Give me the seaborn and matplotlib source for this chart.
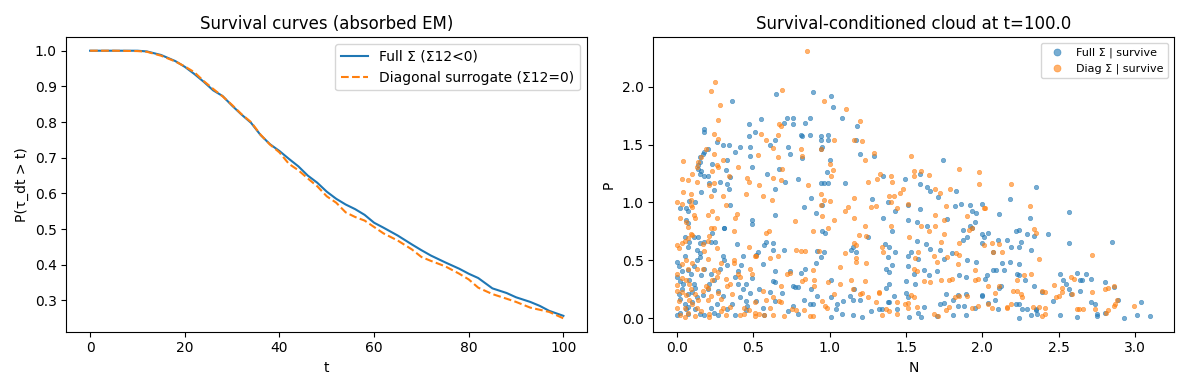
import numpy as np
import pandas as pd
import matplotlib
matplotlib.use("Agg")
import matplotlib.pyplot as plt
import seaborn as sns

# survival curves, values
t_grid = [0, 5, 10, 12, 15, 18, 20, 22, 24, 26, 28, 30, 32, 34, 36, 38, 40, 42, 44, 46, 48,
          50, 52, 54, 56, 58, 60, 62, 65, 68, 70, 72, 75, 78, 80, 82, 85, 88, 90, 93, 95, 97, 100]
surv_full = [1.0, 1.0, 1.0, 0.998, 0.988, 0.971, 0.955, 0.935, 0.913, 0.889, 0.873, 0.846, 0.821,
             0.798, 0.764, 0.738, 0.719, 0.697, 0.676, 0.650, 0.630, 0.605, 0.585, 0.569, 0.556,
             0.540, 0.518, 0.504, 0.482, 0.457, 0.441, 0.426, 0.407, 0.389, 0.375, 0.363, 0.334,
             0.321, 0.309, 0.296, 0.285, 0.271, 0.257]
surv_diag = [1.0, 1.0, 0.999, 0.997, 0.986, 0.970, 0.956, 0.940, 0.915, 0.893, 0.872, 0.848, 0.822,
             0.800, 0.765, 0.737, 0.715, 0.683, 0.665, 0.642, 0.620, 0.592, 0.574, 0.547, 0.534,
             0.524, 0.506, 0.488, 0.468, 0.443, 0.422, 0.411, 0.396, 0.375, 0.359, 0.336, 0.318,
             0.305, 0.296, 0.280, 0.274, 0.268, 0.250]

# survivors at t=100, (N, P) pairs
full_pts = [
    (0.36, 1.88), (0.65, 1.94), (0.89, 1.95), (1.01, 1.92), (1.02, 1.82), (1.08, 1.73), (1.18, 1.66),
    (0.72, 1.73), (0.76, 1.73), (0.70, 1.69), (0.76, 1.68), (0.84, 1.69), (0.87, 1.73), (0.55, 1.72),
    (0.47, 1.68), (0.51, 1.61), (0.47, 1.57), (0.18, 1.63), (0.18, 1.61), (0.81, 1.58), (0.82, 1.57),
    (0.87, 1.58), (0.94, 1.57), (0.99, 1.58), (0.94, 1.54), (0.99, 1.54), (0.95, 1.48), (0.94, 1.46),
    (0.73, 1.48), (0.61, 1.50), (0.64, 1.54), (0.41, 1.48), (0.34, 1.50), (0.30, 1.50), (0.26, 1.52),
    (0.38, 1.44), (0.48, 1.48), (0.48, 1.40), (0.20, 1.46), (0.18, 1.44), (0.17, 1.42), (0.15, 1.39),
    (0.15, 1.35), (0.23, 1.33), (0.33, 1.37), (1.17, 1.54), (1.20, 1.42), (1.29, 1.40), (1.00, 1.37),
    (0.74, 1.42), (0.82, 1.38), (0.67, 1.29), (0.49, 1.31), (0.59, 1.25), (0.14, 1.32), (0.14, 1.29),
    (0.15, 1.25), (0.16, 1.27), (0.18, 1.23), (0.20, 1.23), (0.32, 1.28), (0.35, 1.22), (0.98, 1.26),
    (0.71, 1.18), (0.79, 1.20), (1.10, 1.17), (0.96, 1.17), (0.99, 1.17), (0.94, 1.17), (0.28, 1.18),
    (0.21, 1.17), (0.24, 1.11), (0.33, 1.16), (0.34, 1.12), (0.16, 1.09), (0.06, 0.95), (0.02, 0.95),
    (0.07, 0.93), (0.08, 1.01), (0.12, 1.00), (0.35, 0.98), (0.64, 1.12), (0.88, 1.04), (0.95, 0.98),
    (0.91, 0.91), (0.83, 0.96), (0.64, 0.89), (0.49, 0.85), (0.49, 0.81), (0.06, 0.85), (0.07, 0.82),
    (0.31, 0.78), (1.35, 1.23), (1.28, 1.03), (1.38, 1.00), (1.35, 0.87), (1.41, 0.75), (1.25, 0.70),
    (1.43, 0.93), (0.95, 0.75), (0.97, 0.74), (1.49, 1.20), (1.59, 1.25), (1.59, 1.16), (1.64, 1.13),
    (1.66, 1.10), (1.59, 0.94), (1.51, 0.85), (1.57, 0.83), (1.64, 0.80), (1.51, 0.98), (1.71, 1.05),
    (1.74, 1.37), (1.77, 0.86), (1.83, 1.10), (1.82, 0.97), (1.86, 0.99), (1.92, 0.98), (1.93, 0.93),
    (1.96, 0.91), (1.95, 0.83), (1.93, 0.78), (1.92, 0.80), (2.00, 0.99), (2.04, 0.74), (2.01, 0.70),
    (2.10, 0.68), (2.16, 0.68), (2.19, 0.62), (2.11, 0.90), (2.18, 1.03), (2.22, 0.75), (2.24, 0.76),
    (2.25, 0.66), (2.24, 0.62), (2.29, 0.73), (2.31, 0.87), (2.32, 0.59), (2.34, 0.71), (2.35, 1.13),
    (2.43, 0.73), (2.57, 0.92), (2.57, 0.65), (2.85, 0.66), (1.87, 0.68), (1.90, 0.70), (1.87, 0.76),
    (1.80, 0.56), (1.90, 0.50), (1.96, 0.49), (2.00, 0.65), (2.00, 0.73), (2.07, 0.57), (2.13, 0.48),
    (2.18, 0.49), (2.24, 0.47), (2.07, 0.42), (2.09, 0.42), (2.14, 0.42), (2.03, 0.37), (1.75, 0.51),
    (1.72, 0.59), (1.66, 0.60), (1.63, 0.64), (1.57, 0.67), (1.53, 0.57), (1.51, 0.54), (1.43, 0.57),
    (1.38, 0.53), (1.39, 0.62), (1.36, 0.64), (1.37, 0.43), (1.39, 0.40), (1.41, 0.46), (1.39, 0.30),
    (1.37, 0.26), (1.51, 0.45), (1.55, 0.38), (1.56, 0.30), (1.62, 0.42), (1.65, 0.37), (1.70, 0.41),
    (1.50, 0.32), (1.50, 0.22), (1.51, 0.18), (1.58, 0.51), (1.85, 0.37), (1.89, 0.36), (1.89, 0.21),
    (1.84, 0.20), (1.81, 0.16), (1.84, 0.11), (1.88, 0.11), (1.95, 0.09), (2.00, 0.20), (2.02, 0.34),
    (2.00, 0.19), (2.04, 0.13), (2.08, 0.16), (2.10, 0.08), (2.12, 0.28), (2.11, 0.26), (1.75, 0.13),
    (1.76, 0.21), (1.72, 0.12), (1.70, 0.02), (1.81, 0.03), (1.89, 0.03), (2.22, 0.12), (2.24, 0.12),
    (2.26, 0.08), (2.24, 0.00), (2.23, 0.38), (2.24, 0.37), (2.28, 0.33), (2.29, 0.08), (2.32, 0.03),
    (2.34, 0.28), (2.35, 0.07), (2.36, 0.04), (2.35, 0.08), (2.39, 0.23), (2.51, 0.38), (2.46, 0.15),
    (2.51, 0.03), (2.53, 0.33), (2.55, 0.30), (2.57, 0.25), (2.58, 0.21), (2.62, 0.01), (2.62, 0.39),
    (2.64, 0.33), (2.65, 0.33), (2.68, 0.38), (2.64, 0.24), (2.71, 0.34), (2.71, 0.14), (2.74, 0.12),
    (2.75, 0.04), (2.75, 0.02), (2.80, 0.05), (2.80, 0.31), (2.86, 0.27), (2.89, 0.16), (2.93, 0.00),
    (3.01, 0.03), (3.04, 0.14), (3.10, 0.02),
    (0.00, 0.49), (0.01, 0.45), (0.03, 0.41), (0.00, 0.36), (0.02, 0.32), (0.04, 0.30), (0.03, 0.25),
    (0.01, 0.21), (0.02, 0.17), (0.05, 0.12), (0.02, 0.05), (0.00, 0.03), (0.05, 0.54), (0.07, 0.62),
    (0.08, 0.66), (0.05, 0.70), (0.11, 0.70), (0.14, 0.70), (0.15, 0.65), (0.13, 0.59), (0.15, 0.56),
    (0.15, 0.53), (0.13, 0.50), (0.11, 0.45), (0.07, 0.42), (0.09, 0.38), (0.08, 0.33), (0.11, 0.30),
    (0.12, 0.26), (0.10, 0.23), (0.07, 0.21), (0.13, 0.18), (0.10, 0.14), (0.07, 0.10), (0.12, 0.08),
    (0.15, 0.04), (0.18, 0.03), (0.17, 0.20), (0.20, 0.25), (0.21, 0.30), (0.24, 0.33), (0.22, 0.38),
    (0.18, 0.43), (0.16, 0.37), (0.18, 0.66), (0.22, 0.66), (0.25, 0.66), (0.23, 0.74), (0.31, 0.78),
    (0.30, 0.54), (0.31, 0.50), (0.33, 0.46), (0.28, 0.43), (0.27, 0.24), (0.30, 0.19), (0.26, 0.12),
    (0.22, 0.09), (0.24, 0.05), (0.27, 0.03), (0.33, 0.08), (0.36, 0.12), (0.38, 0.03), (0.41, 0.18),
    (0.40, 0.30), (0.43, 0.25), (0.45, 0.30), (0.38, 0.36), (0.40, 0.41), (0.42, 0.46), (0.43, 0.54),
    (0.39, 0.64), (0.45, 0.15), (0.46, 0.11), (0.45, 0.07), (0.48, 0.22), (0.49, 0.35), (0.52, 0.55),
    (0.53, 0.57), (0.56, 0.47), (0.57, 0.63), (0.58, 0.66), (0.63, 0.65), (0.63, 0.59), (0.64, 0.41),
    (0.63, 0.32), (0.64, 0.31), (0.54, 0.25), (0.52, 0.15), (0.56, 0.09), (0.57, 0.03), (0.61, 0.23),
    (0.64, 0.15), (0.69, 0.22), (0.70, 0.59), (0.74, 0.41), (0.76, 0.28), (0.77, 0.27), (0.79, 0.27),
    (0.81, 0.39), (0.84, 0.43), (0.83, 0.16), (0.76, 0.11), (0.73, 0.06), (0.79, 0.04), (0.87, 0.12),
    (0.89, 0.12), (0.88, 0.25), (0.92, 0.19), (0.91, 0.48), (0.92, 0.58), (0.94, 0.53), (0.96, 0.57),
    (1.01, 0.33), (1.01, 0.18), (1.05, 0.12), (1.04, 0.08), (1.01, 0.01), (1.09, 0.15), (1.08, 0.04),
    (1.13, 0.19), (1.16, 0.25), (1.15, 0.16), (1.15, 0.03), (1.15, 0.62), (1.14, 0.59), (1.17, 0.57),
    (1.20, 0.16), (1.21, 0.01), (1.27, 0.06), (1.32, 0.08), (1.38, 0.14), (1.39, 0.14), (1.42, 0.19),
    (1.44, 0.08), (1.52, 0.01), (1.58, 0.05), (1.60, 0.01), (1.62, 0.10), (1.34, 0.08), (0.07, 0.04),
    (0.06, 0.08),
]

diag_pts = [
    (0.85, 2.31), (0.25, 2.04), (0.22, 1.96), (0.69, 1.97), (0.28, 1.84), (0.96, 1.88), (1.11, 1.81),
    (0.27, 1.71), (0.67, 1.68), (0.68, 1.66), (1.20, 1.70), (0.24, 1.59), (0.55, 1.59), (0.66, 1.58),
    (0.27, 1.55), (0.58, 1.54), (1.03, 1.54), (1.16, 1.54), (1.21, 1.53), (0.81, 1.46), (0.94, 1.46),
    (0.19, 1.46), (0.63, 1.47), (0.24, 1.42), (0.53, 1.41), (0.66, 1.39), (0.82, 1.40), (1.29, 1.43),
    (1.23, 1.37), (1.53, 1.40), (0.16, 1.39), (0.04, 1.36), (0.30, 1.37), (0.26, 1.32), (0.27, 1.31),
    (0.23, 1.27), (0.14, 1.35), (0.13, 1.31), (0.10, 1.25), (0.40, 1.31), (1.00, 1.33), (1.02, 1.28),
    (0.69, 1.29), (0.34, 1.23), (1.01, 1.23), (0.03, 1.20), (0.07, 1.19), (0.13, 1.18), (0.24, 1.17),
    (0.21, 1.15), (0.46, 1.21), (0.47, 1.18), (0.54, 1.15), (0.63, 1.21), (0.68, 1.19), (0.86, 1.15),
    (1.25, 1.18), (1.31, 1.20), (1.33, 1.25), (1.40, 1.23), (1.41, 1.18), (1.48, 1.12), (1.55, 1.27),
    (1.55, 1.23), (1.60, 1.27), (1.65, 1.24), (1.85, 1.29), (1.98, 1.26), (1.98, 1.16), (2.19, 1.16),
    (1.69, 1.12), (1.72, 1.08), (1.79, 1.12), (0.04, 1.09), (0.09, 1.07), (0.22, 1.06), (0.30, 1.06),
    (0.45, 1.07), (0.56, 1.06), (0.62, 1.02), (0.94, 1.07), (0.96, 1.02), (1.16, 1.04), (1.39, 1.06),
    (1.46, 1.08), (1.42, 1.06), (1.51, 0.99), (1.40, 1.00), (1.00, 1.01), (0.00, 1.00), (0.03, 0.99),
    (0.09, 1.02), (0.09, 0.98), (0.10, 0.96), (0.32, 0.98), (0.02, 0.87), (0.11, 0.89), (0.12, 0.87),
    (0.20, 0.89), (0.23, 0.93), (0.26, 0.87), (0.38, 0.87), (0.39, 0.90), (0.94, 0.98), (0.95, 0.88),
    (1.10, 0.93), (1.12, 0.96), (1.16, 0.87), (1.27, 0.96), (1.30, 0.97), (1.44, 0.95), (1.76, 0.97),
    (1.75, 0.85), (2.01, 0.95), (2.02, 0.95), (2.31, 0.97), (1.90, 0.88), (1.69, 0.89), (1.03, 0.85),
    (0.77, 0.84), (0.99, 0.78), (0.60, 0.75), (0.58, 0.74), (0.37, 0.75), (1.23, 0.80), (1.19, 0.72),
    (1.24, 0.71), (0.89, 0.75), (1.40, 0.80), (1.60, 0.80), (1.65, 0.75), (1.52, 0.70), (1.69, 0.80),
    (1.75, 0.73), (1.93, 0.78), (1.91, 0.76), (1.85, 0.65), (1.73, 0.66), (2.01, 0.63), (2.06, 0.65),
    (2.11, 0.64), (2.34, 0.77), (2.35, 0.74), (2.37, 0.51), (2.72, 0.55), (2.13, 0.57), (2.07, 0.57),
    (1.85, 0.55), (1.83, 0.56), (1.84, 0.47), (1.77, 0.53), (1.70, 0.49), (1.68, 0.54), (1.58, 0.57),
    (1.56, 0.52), (1.55, 0.43), (1.57, 0.41), (1.62, 0.32), (1.66, 0.31), (1.73, 0.33), (1.78, 0.33),
    (1.80, 0.34), (1.95, 0.42), (1.95, 0.33), (1.97, 0.34), (2.04, 0.28), (2.08, 0.22), (2.11, 0.28),
    (2.20, 0.24), (2.23, 0.24), (2.23, 0.33), (2.27, 0.37), (2.32, 0.38), (2.25, 0.21), (2.26, 0.18),
    (2.39, 0.24), (2.41, 0.23), (2.47, 0.29), (2.52, 0.26), (2.52, 0.23), (2.50, 0.19), (2.48, 0.18),
    (2.58, 0.36), (2.60, 0.34), (2.59, 0.21), (2.72, 0.23), (2.80, 0.25), (2.82, 0.26), (2.86, 0.28),
    (2.86, 0.11), (2.87, 0.12), (2.74, 0.08), (2.81, 0.05), (2.82, 0.07), (2.99, 0.11), (2.88, 0.16),
    (2.62, 0.08), (2.66, 0.08), (2.63, 0.08), (2.41, 0.09), (2.39, 0.02), (2.41, 0.04), (2.37, 0.10),
    (2.33, 0.10), (2.19, 0.12), (2.16, 0.10), (2.16, 0.09), (2.06, 0.09), (2.04, 0.12), (1.97, 0.11),
    (1.93, 0.09), (1.90, 0.19), (1.85, 0.19), (1.82, 0.18), (1.78, 0.10), (1.76, 0.07), (1.71, 0.02),
    (1.68, 0.04), (1.51, 0.09), (1.51, 0.13), (1.53, 0.20), (1.55, 0.18), (1.57, 0.10), (1.49, 0.12),
    (1.44, 0.14), (1.44, 0.04), (1.39, 0.06), (1.34, 0.03), (1.37, 0.08), (1.30, 0.14), (1.32, 0.23),
    (1.32, 0.22), (1.25, 0.18), (1.23, 0.32), (1.20, 0.21), (1.21, 0.22), (1.15, 0.25), (1.14, 0.33),
    (1.24, 0.48), (1.17, 0.49), (1.17, 0.52), (1.10, 0.56), (1.17, 0.63), (1.16, 0.65), (1.34, 0.62),
    (1.35, 0.57), (1.07, 0.44), (0.99, 0.31), (1.07, 0.30), (1.03, 0.21), (0.95, 0.15), (0.97, 0.11),
    (0.98, 0.09), (0.90, 0.28), (0.90, 0.33), (0.89, 0.42), (0.93, 0.58), (0.84, 0.58), (0.78, 0.59),
    (0.81, 0.58), (0.66, 0.54), (0.61, 0.52), (0.51, 0.54), (0.47, 0.62), (0.82, 0.32), (0.84, 0.34),
    (0.74, 0.39), (0.72, 0.38), (0.68, 0.28), (0.68, 0.14), (0.67, 0.15), (0.63, 0.18), (0.58, 0.16),
    (0.75, 0.08), (0.78, 0.07), (0.83, 0.07), (0.87, 0.02), (0.89, 0.02), (0.70, 0.02), (0.63, 0.03),
    (0.57, 0.03), (0.51, 0.02), (0.47, 0.07), (0.51, 0.14), (0.56, 0.24), (0.49, 0.38), (0.48, 0.43),
    (0.52, 0.54), (0.37, 0.48), (0.37, 0.50), (0.40, 0.38), (0.41, 0.36), (0.35, 0.30), (0.32, 0.34),
    (0.33, 0.28), (0.36, 0.21), (0.35, 0.10), (0.30, 0.09), (0.29, 0.17), (0.27, 0.22), (0.22, 0.19),
    (0.20, 0.16), (0.21, 0.04), (0.21, 0.01), (0.16, 0.06), (0.13, 0.09), (0.10, 0.12), (0.05, 0.09),
    (0.05, 0.01), (0.02, 0.03), (0.00, 0.09), (0.01, 0.15), (0.03, 0.23), (0.00, 0.24), (0.00, 0.29),
    (0.00, 0.38), (0.03, 0.35), (0.06, 0.33), (0.08, 0.30), (0.09, 0.25), (0.06, 0.20), (0.08, 0.16),
    (0.12, 0.21), (0.14, 0.16), (0.17, 0.24), (0.19, 0.28), (0.20, 0.26), (0.23, 0.33), (0.26, 0.36),
    (0.27, 0.40), (0.29, 0.48), (0.20, 0.51), (0.17, 0.43), (0.13, 0.43), (0.10, 0.48), (0.06, 0.50),
    (0.03, 0.47), (0.07, 0.43), (0.01, 0.61), (0.00, 0.63), (0.03, 0.65), (0.05, 0.67), (0.07, 0.69),
    (0.09, 0.73), (0.10, 0.72), (0.07, 0.79), (0.06, 0.83), (0.17, 0.64), (0.20, 0.67), (0.21, 0.71),
    (0.22, 0.78), (0.24, 0.78), (0.26, 0.61), (0.18, 0.58), (0.24, 0.42), (0.44, 0.09), (0.44, 0.04),
    (0.51, 0.05), (0.61, 0.09), (0.54, 0.04), (0.41, 0.03), (0.32, 0.03), (0.29, 0.06), (0.12, 0.02),
    (0.07, 0.05),
]

surv_df = pd.DataFrame({"t": t_grid, "full": surv_full, "diag": surv_diag})
full_df = pd.DataFrame(full_pts, columns=["N", "P"])
diag_df = pd.DataFrame(diag_pts, columns=["N", "P"])

fig, axes = plt.subplots(1, 2, figsize=(11.89, 3.9), dpi=100)

# left: survival curves
ax = axes[0]
sns.lineplot(data=surv_df, x="t", y="full", ax=ax, color="tab:blue", linewidth=1.5,
             label="Full Σ (Σ12<0)")
sns.lineplot(data=surv_df, x="t", y="diag", ax=ax, color="tab:orange", linewidth=1.5,
             linestyle="--", label="Diagonal surrogate (Σ12=0)")
ax.set_title("Survival curves (absorbed EM)")
ax.set_xlabel("t")
ax.set_ylabel("P(τ_dt > t)")
ax.legend(loc="upper right")

# right: survival-conditioned cloud
ax = axes[1]
sns.scatterplot(data=full_df, x="N", y="P", ax=ax, s=10, alpha=0.6, color="tab:blue",
                edgecolor="face", linewidth=0.5, label="Full Σ | survive")
sns.scatterplot(data=diag_df, x="N", y="P", ax=ax, s=10, alpha=0.6, color="tab:orange",
                edgecolor="face", linewidth=0.5, label="Diag Σ | survive")
ax.set_title("Survival-conditioned cloud at t=100.0")
ax.set_xlabel("N")
ax.set_ylabel("P")
ax.legend(loc="upper right", fontsize=8, markerscale=1.6)

plt.tight_layout()
plt.savefig("out.png")
